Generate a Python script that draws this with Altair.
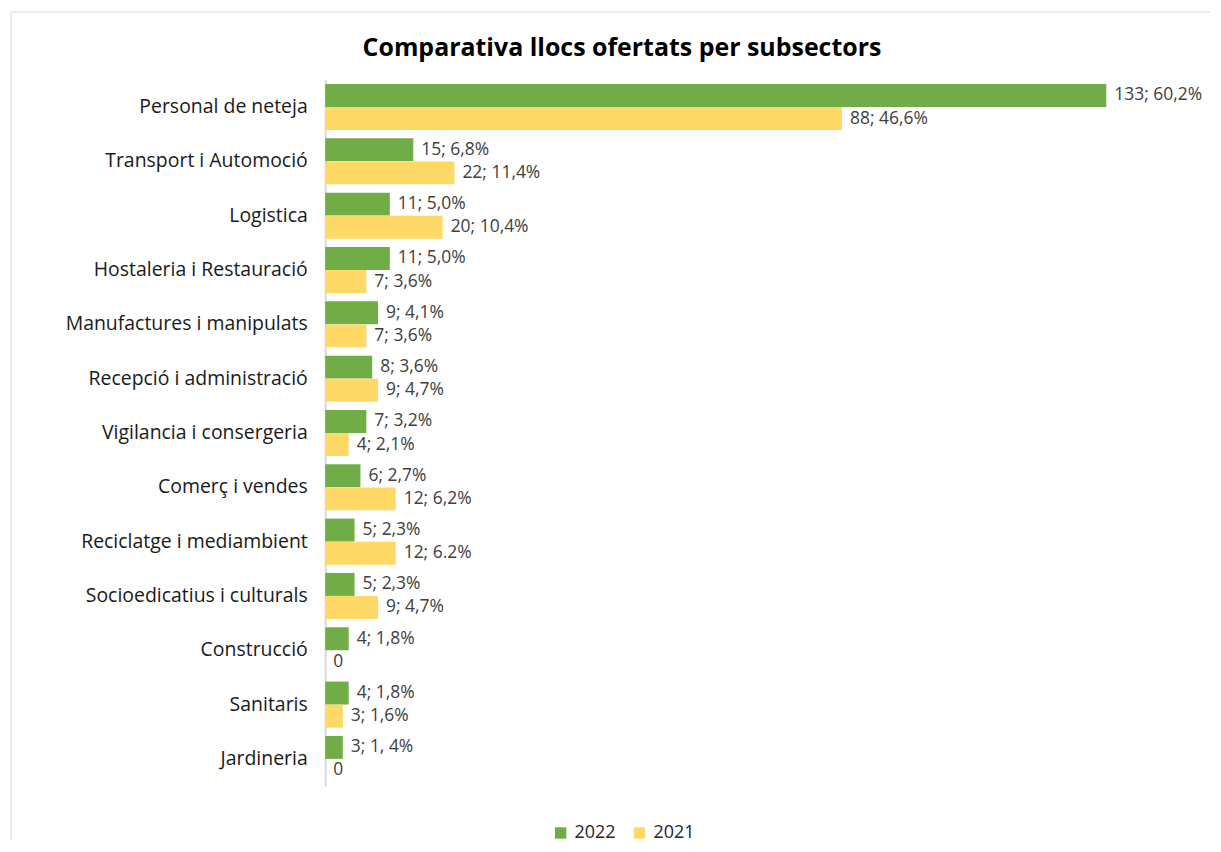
import altair as alt
import pandas as pd

categories = [
    "Personal de neteja", "Transport i Automoció", "Logistica",
    "Hostaleria i Restauració", "Manufactures i manipulats",
    "Recepció i administració", "Vigilancia i consergeria",
    "Comerç i vendes", "Reciclatge i mediambient",
    "Socioedicatius i culturals", "Construcció ", "Sanitaris", "Jardineria",
]
years = ["2022", "2021"]
values_2022 = [133, 15, 11, 11, 9, 8, 7, 6, 5, 5, 4, 4, 3]
labels_2022 = ["133; 60,2%", "15; 6,8%", "11; 5,0%", "11; 5,0%", "9; 4,1%",
               "8; 3,6%", "7; 3,2%", "6; 2,7%", "5; 2,3%", "5; 2,3%",
               "4; 1,8%", "4; 1,8%", "3; 1, 4%"]
values_2021 = [88, 22, 20, 7, 7, 9, 4, 12, 12, 9, 0, 3, 0]
labels_2021 = ["88; 46,6%", "22; 11,4%", "20; 10,4%", "7; 3,6%", "7; 3,6%",
               "9; 4,7%", "4; 2,1%", "12; 6,2%", "12; 6.2%", "9; 4,7%",
               "0", "3; 1,6%", "0"]
colors = ["#70AD47", "#FFD966"]

rows = []
for c, v, l in zip(categories, values_2022, labels_2022):
    rows.append({"cat": c, "year": "2022", "value": v, "label": l})
for c, v, l in zip(categories, values_2021, labels_2021):
    rows.append({"cat": c, "year": "2021", "value": v, "label": l})
df = pd.DataFrame(rows)

W, H = 783, 708
FONT = "Open Sans"

y_enc = alt.Y("cat:N", sort=categories,
              scale=alt.Scale(paddingInner=0.15, paddingOuter=0.075),
              axis=alt.Axis(title=None, ticks=False, labelFontSize=19.5, labelColor="#1a1a1a",
                            labelFont=FONT, labelPadding=18, labelLimit=400,
                            domainColor="#d9d9d9", domainWidth=2, grid=False))
x_enc = alt.X("value:Q", scale=alt.Scale(domain=[0, 133], nice=False), axis=None)
yoff = alt.YOffset("year:N", sort=years, scale=alt.Scale(domain=years, paddingInner=0))

base = alt.Chart(df)
bars = base.mark_bar(size=23).encode(
    y=y_enc, x=x_enc, yOffset=yoff,
    color=alt.Color("year:N", scale=alt.Scale(domain=years, range=colors),
                    legend=alt.Legend(title=None, orient="none", direction="horizontal",
                                      legendX=227, legendY=746, symbolType="square",
                                      symbolSize=130, labelFontSize=18, labelFont=FONT,
                                      labelColor="#262626", labelOffset=5, columnPadding=14,
                                      symbolStrokeWidth=0)),
)
texts = base.mark_text(align="left", baseline="middle", dx=8, fontSize=17.5, font=FONT,
                       color="#404040").encode(
    y=alt.Y("cat:N", sort=categories), x="value:Q", yOffset=yoff, text="label:N")

border = pd.DataFrame({"a": [0]})
top_rule = alt.Chart(border).mark_rule(color="#d9d9d9", strokeWidth=1).encode(
    x=alt.value(-315), x2=alt.value(887), y=alt.value(-68))
left_rule = alt.Chart(border).mark_rule(color="#d9d9d9", strokeWidth=1).encode(
    x=alt.value(-315), y=alt.value(-68), y2=alt.value(762))

chart = alt.layer(top_rule, left_rule, bars, texts).properties(
    width=W, height=H, padding={"left": 2, "top": 2, "right": 2, "bottom": 2},
    title=alt.TitleParams("Comparativa llocs ofertats per subsectors", fontSize=25,
                          font=FONT, fontWeight="bold", color="#000000",
                          anchor="middle", dx=-94, offset=-50),
).configure(background="white").configure_view(strokeWidth=0)

chart.save("out.html", embed_options={"renderer": "svg", "actions": False})
